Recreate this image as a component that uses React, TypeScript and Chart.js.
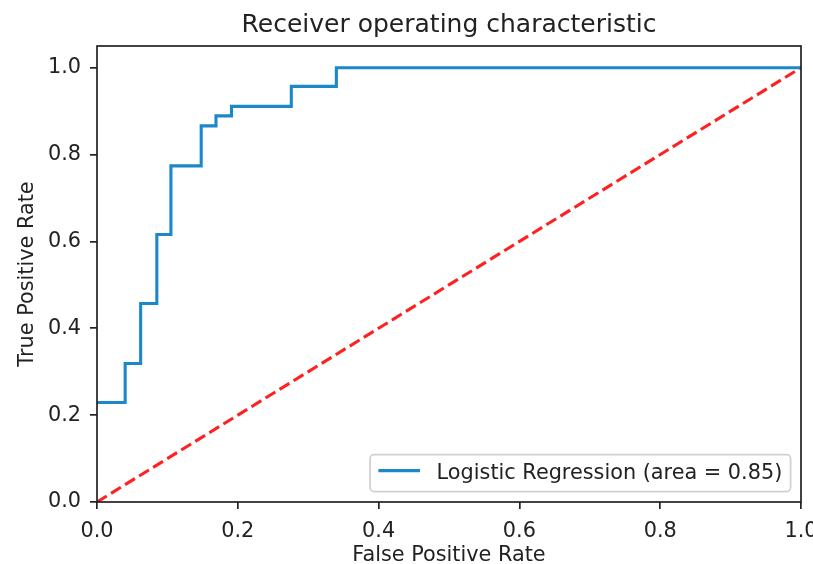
import React, { useEffect, useRef } from 'react';
import { Chart, registerables } from 'chart.js';

Chart.register(...registerables);

const FONT = '"DejaVu Sans", "Liberation Sans", sans-serif';

const titleText = 'Receiver operating characteristic';
const xLabel = 'False Positive Rate';
const yLabel = 'True Positive Rate';
const seriesLabel = 'Logistic Regression (area = 0.85)';

// ROC curve (step-wise)
const fpr = [0, 0.040, 0.062, 0.085, 0.105, 0.148, 0.169, 0.191, 0.276, 0.340, 1.0];
const tpr = [0.229, 0.319, 0.457, 0.616, 0.774, 0.866, 0.889, 0.911, 0.957, 1.0, 1.0];

// chance diagonal
const diagX = [0, 1];
const diagY = [0, 1];

const xTicks = [0, 0.2, 0.4, 0.6, 0.8, 1.0];
const yTicks = [0, 0.2, 0.4, 0.6, 0.8, 1.0];

const TEXT = '#222222';
const SPINE = '#222222';
const FS = 20.8;

const framePlugin = {
  id: 'mplFrame',
  afterDatasetsDraw(chart: any) {
    const { ctx, chartArea: a } = chart;
    ctx.save();
    ctx.strokeStyle = SPINE;
    ctx.lineWidth = 1.7;
    ctx.strokeRect(a.left, a.top, a.right - a.left, a.bottom - a.top);
    ctx.restore();
  },
  afterDraw(chart: any) {
    const { ctx, chartArea: a } = chart;
    const ds = chart.data.datasets[0];
    ctx.save();
    ctx.font = `${FS}px ${FONT}`;
    const pad = 0.4 * FS;
    const handle = 2 * FS;
    const gap = 0.8 * FS;
    const tw = ctx.measureText(ds.label).width;
    const w = pad + handle + gap + tw + pad;
    const h = 37;
    const right = a.right - 0.5 * FS;
    const bottom = a.bottom - 0.5 * FS;
    const left = right - w;
    const top = bottom - h;
    const r = 4;
    ctx.beginPath();
    ctx.moveTo(left + r, top);
    ctx.lineTo(right - r, top);
    ctx.arcTo(right, top, right, top + r, r);
    ctx.lineTo(right, bottom - r);
    ctx.arcTo(right, bottom, right - r, bottom, r);
    ctx.lineTo(left + r, bottom);
    ctx.arcTo(left, bottom, left, bottom - r, r);
    ctx.lineTo(left, top + r);
    ctx.arcTo(left, top, left + r, top, r);
    ctx.closePath();
    ctx.fillStyle = 'rgba(255,255,255,0.8)';
    ctx.fill();
    ctx.strokeStyle = '#d0d0d0';
    ctx.lineWidth = 1.7;
    ctx.stroke();
    const cy = top + h / 2;
    ctx.beginPath();
    ctx.moveTo(left + pad, cy - 2.5);
    ctx.lineTo(left + pad + handle, cy - 2.5);
    ctx.strokeStyle = ds.borderColor;
    ctx.lineWidth = 3.1;
    ctx.stroke();
    ctx.fillStyle = TEXT;
    ctx.textBaseline = 'middle';
    ctx.textAlign = 'left';
    ctx.fillText(ds.label, left + pad + handle + gap, cy + 1);
    ctx.restore();
  },
};

const fmt = (v: any) => Number(v).toFixed(1);

export default function App() {
  const ref = useRef<HTMLCanvasElement | null>(null);

  useEffect(() => {
    if (!ref.current) return;
    Chart.defaults.font.family = FONT;
    const chart = new Chart(ref.current, {
      type: 'line',
      data: {
        datasets: [
          {
            label: seriesLabel,
            data: fpr.map((x, i) => ({ x, y: tpr[i] })),
            borderColor: '#1a88c9',
            borderWidth: 3.1,
            pointRadius: 0,
            stepped: 'before',
            fill: false,
          },
          {
            label: 'chance',
            data: diagX.map((x, i) => ({ x, y: diagY[i] })),
            borderColor: '#ff2020',
            borderWidth: 3.1,
            borderDash: [11.5, 5],
            pointRadius: 0,
            fill: false,
          },
        ],
      },
      options: {
        animation: false,
        responsive: false,
        devicePixelRatio: 1,
        layout: { padding: { left: 0, right: 12, top: 0, bottom: 0 } },
        plugins: {
          legend: { display: false },
          tooltip: { enabled: false },
          title: {
            display: true,
            fullSize: false,
            text: titleText,
            color: TEXT,
            font: { size: 25, weight: 'normal', family: FONT, lineHeight: 1.2 },
            padding: { top: 10, bottom: 6 },
          },
        },
        scales: {
          x: {
            type: 'linear',
            position: 'bottom',
            min: 0,
            max: 1,
            afterBuildTicks: (s: any) => {
              s.ticks = xTicks.map((v) => ({ value: v }));
            },
            afterFit: (s: any) => {
              s.height = 62;
              s.paddingLeft = 0;
              s.paddingRight = 0;
            },
            grid: { drawOnChartArea: false, drawTicks: true, tickLength: 7, color: SPINE, lineWidth: 1.7 },
            border: { display: false },
            ticks: { padding: 10, color: TEXT, font: { size: FS, family: FONT }, callback: fmt, maxRotation: 0, autoSkip: false },
            title: {
              display: true,
              text: xLabel,
              color: TEXT,
              font: { size: FS, family: FONT, lineHeight: 1 },
              padding: { top: 0, bottom: -2 },
            },
          },
          y: {
            type: 'linear',
            min: 0,
            max: 1.05,
            afterBuildTicks: (s: any) => {
              s.ticks = yTicks.map((v) => ({ value: v }));
            },
            afterFit: (s: any) => {
              s.width = 97;
              s.paddingTop = 0;
              s.paddingBottom = 0;
            },
            grid: { drawOnChartArea: false, drawTicks: true, tickLength: 7, color: SPINE, lineWidth: 1.7 },
            border: { display: false },
            ticks: { padding: 9, color: TEXT, font: { size: FS, family: FONT }, callback: fmt, autoSkip: false },
            title: {
              display: true,
              text: yLabel,
              color: TEXT,
              font: { size: FS, family: FONT, lineHeight: 1.2 },
              padding: { top: 15, bottom: 0 },
            },
          },
        },
      },
      plugins: [framePlugin],
    } as any);
    return () => chart.destroy();
  }, []);

  return (
    <div style={{ position: 'fixed', left: 0, top: 0, width: 813, height: 564, background: '#fff' }}>
      <canvas ref={ref} width={813} height={564} style={{ display: 'block' }} />
    </div>
  );
}
